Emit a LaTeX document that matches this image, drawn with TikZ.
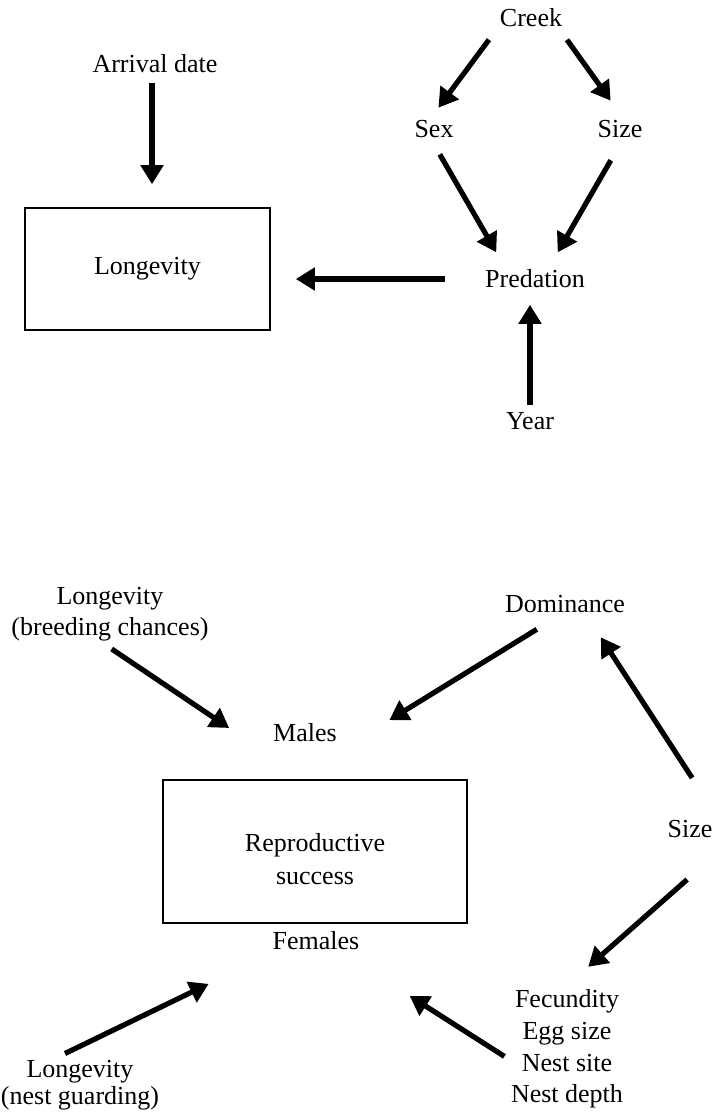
\documentclass[tikz,border=0pt]{standalone}
\usepackage{fontspec}
\setmainfont{Liberation Serif}
\usetikzlibrary{arrows.meta}

\begin{document}
\begin{tikzpicture}[x=0.5pt,y=-0.5pt,->,>={Triangle[length=9.5pt,width=11pt]},
    line width=2.6pt,
    txt/.style={inner sep=2pt,align=center,font=\fontsize{13}{15.8}\selectfont},
    box/.style={draw,rectangle,inner sep=0pt,line width=0.8pt,font=\fontsize{13}{15.8}\selectfont}]

\useasboundingbox (0,0) rectangle (715,1116);

% longevity
\node[txt] (arrival) at (155,64) {Arrival date};
\node[box,minimum width=122.5pt,minimum height=61pt] (longev) at (147.5,269) {Longevity};
\node[txt] (creek) at (531,18) {Creek};
\node[txt] (sex) at (434,129) {Sex};
\node[txt] (size) at (620,129) {Size};
\node[txt] (pred) at (535,279) {Predation};
\node[txt] (year) at (530,421) {Year};

% reproductive success
\node[txt] (longm) at (110,614) {Longevity\\(breeding chances)};
\node[txt] (dom) at (565,604) {Dominance};
\node[txt] (males) at (305,733) {Males};
\node[box,minimum width=152pt,minimum height=71.5pt] (repro) at (315,851.5) {};
\node[txt,font=\fontsize{13}{16.3}\selectfont] (reprotxt) at (315,859) {Reproductive\\success};
\node[txt] (sizeb) at (690,829) {Size};
\node[txt] (fec) at (567,1049) {Fecundity\\Egg size\\Nest site\\Nest depth};
\node[txt] (females) at (316,941) {Females};
\node[txt,font=\fontsize{13}{13.5}\selectfont] (longf) at (80,1085) {Longevity\\(nest guarding)};

\path
([xshift=-1.5pt]arrival.south) edge[shorten <=1.5pt,shorten >=11.5pt] ([xshift=-1.5pt]arrival.south |- longev.north)
(creek.south west) edge[shorten <=3.7pt,shorten >=3.7pt] (sex.north)
([xshift=-3pt]creek.south east) edge[shorten <=3.7pt,shorten >=8pt] (size.north)
(sex.south) edge[shorten <=5.8pt,shorten >=6.3pt] ([xshift=12pt]pred.north west)
(size.south) edge[shorten <=9.2pt,shorten >=6.3pt] ([xshift=-20pt]pred.north east)
(pred.west) edge[shorten <=17pt,shorten >=12.5pt] (pred.west -| longev.east)
(year.north) edge[shorten <=0.5pt,shorten >=5pt] (year.north |- pred.south)
;

\path
(longm.south) edge[shorten <=1pt,shorten >=4.5pt] ([xshift=-15pt]males.west)
([xshift=-6pt]dom.south) edge[shorten <=9.5pt,shorten >=12.3pt] ([xshift=12.5pt]males.east)
([xshift=-1.8pt]sizeb.north east) edge[shorten <=21.3pt,shorten >=10.7pt] ([xshift=-21.2pt]dom.south east)
([xshift=18.5pt]sizeb.south) edge[shorten <=26.6pt,shorten >=12.4pt] ([xshift=1.3pt]fec.north)
([yshift=-3.7pt]fec.west) edge[shorten >=36.4pt] ([xshift=-8.8pt]females.south east)
([xshift=-7.5pt]longf.north) edge[shorten >=31.1pt] ([xshift=-0.7pt]females.south west)
;

\end{tikzpicture}
\end{document}
